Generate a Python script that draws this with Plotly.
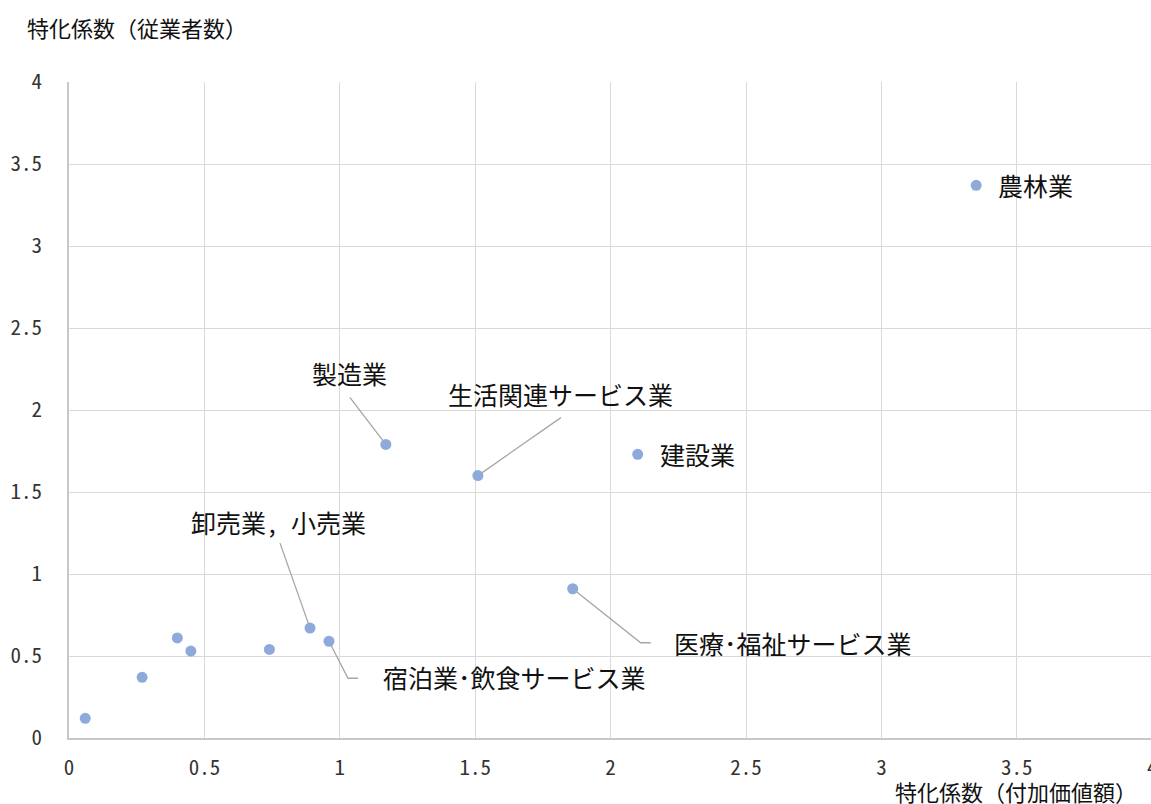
import plotly.graph_objects as go

# 産業別の特化係数（付加価値額 × 従業者数）
industry = ["農林業", "建設業", "製造業", "生活関連サービス業", "卸売業, 小売業",
            "宿泊業･飲食サービス業", "医療･福祉サービス業",
            "", "", "", "", ""]
coef_value_added = [3.35, 2.10, 1.17, 1.51, 0.89, 0.96, 1.86, 0.06, 0.27, 0.40, 0.45, 0.74]
coef_employees = [3.37, 1.73, 1.79, 1.60, 0.67, 0.59, 0.91, 0.12, 0.37, 0.61, 0.53, 0.54]

tick_vals = [0, 0.5, 1, 1.5, 2, 2.5, 3, 3.5, 4]
tick_text = ["0", "0.5", "1", "1.5", "2", "2.5", "3", "3.5", "4"]

x_title = "特化係数（付加価値額）"
y_title = "特化係数（従業者数）"

# ---- layout geometry ----
W, H = 1151, 804
M_L, M_R, M_T, M_B = 69, 0, 82, 66
plot_w = W - M_L - M_R
plot_h = H - M_T - M_B
PX_PER_X = 270.8
X_MAX = plot_w / PX_PER_X
Y_MAX = 4
PX_PER_Y = plot_h / Y_MAX

FONT = "Noto Sans Mono CJK JP, Noto Sans CJK JP, sans-serif"
GRID = "#d9d9d9"
MARK = "#8eaadb"
LEADER = "#a6a6a6"
TEXT = "#111111"
TICK = "#333333"

# label placement: (xanchor, xshift, yshift) in pixels; leader path in pixel offsets
label_pos = {
    "農林業": ("left", 20, 0, None),
    "建設業": ("left", 20, 0, None),
    "製造業": ("center", -36, 71, [(0, 0), (-36, 47)]),
    "生活関連サービス業": ("center", 83, 82, [(0, 0), (83, 58)]),
    "卸売業, 小売業": ("center", -32, 106, [(0, 0), (-30, 85)]),
    "宿泊業･飲食サービス業": ("left", 52, -36, [(0, 0), (19, -37), (29, -37)]),
    "医療･福祉サービス業": ("left", 99, -54, [(0, 0), (68, -54), (78, -54)]),
}

fig = go.Figure()

annotations = []
for name, xv, yv in zip(industry, coef_value_added, coef_employees):
    if not name:
        continue
    anchor, dx, dy, path = label_pos[name]
    if path:
        lx = [xv + px / PX_PER_X for px, _ in path]
        ly = [yv + py / PX_PER_Y for _, py in path]
        fig.add_trace(go.Scatter(x=lx, y=ly, mode="lines",
                                 line=dict(color=LEADER, width=1.3),
                                 hoverinfo="skip", showlegend=False))
    annotations.append(dict(x=xv, y=yv, xref="x", yref="y", text=name,
                            showarrow=False, xanchor=anchor, yanchor="middle",
                            xshift=dx, yshift=dy,
                            font=dict(family=FONT, size=25, color=TEXT)))

fig.add_trace(go.Scatter(
    x=coef_value_added, y=coef_employees, mode="markers",
    marker=dict(color=MARK, size=11, line=dict(width=0)),
    text=industry, showlegend=False,
    hovertemplate="%{text}<br>%{x}, %{y}<extra></extra>",
))

# axis titles (positions given in pixels, converted to paper fractions)
titles = [
    (y_title, 25, 27, "left"),
    (x_title, 1139, 791, "right"),
]
for text, px, py, anchor in titles:
    annotations.append(dict(x=(px - M_L) / plot_w, y=(H - py - M_B) / plot_h,
                            xref="paper", yref="paper", text=text,
                            showarrow=False, xanchor=anchor, yanchor="middle",
                            font=dict(family=FONT, size=22, color=TEXT)))

# last x tick sits at the window edge
annotations.append(dict(x=tick_vals[-1] / X_MAX, y=0, xref="paper", yref="paper",
                        text=tick_text[-1], showarrow=False, xanchor="center",
                        yanchor="top", yshift=-11,
                        font=dict(family=FONT, size=21, color=TICK)))

fig.update_layout(
    width=W, height=H,
    margin=dict(l=M_L, r=M_R, t=M_T, b=M_B),
    paper_bgcolor="white", plot_bgcolor="white",
    annotations=annotations,
    xaxis=dict(range=[0, X_MAX], tickvals=tick_vals[:-1], ticktext=tick_text[:-1],
               showgrid=True, gridcolor=GRID, gridwidth=1.3,
               zeroline=False, showline=True, linecolor="#c8c8c8", linewidth=1.5,
               ticks="outside", ticklen=10, tickcolor="rgba(0,0,0,0)",
               tickfont=dict(family=FONT, size=21, color=TICK)),
    yaxis=dict(range=[0, Y_MAX], tickvals=tick_vals, ticktext=tick_text,
               showgrid=True, gridcolor=GRID, gridwidth=1.3,
               zeroline=False, showline=True, linecolor="#c8c8c8", linewidth=1.5,
               ticks="outside", ticklen=21, tickcolor="rgba(0,0,0,0)",
               tickfont=dict(family=FONT, size=21, color=TICK)),
)

fig.write_html("out.html")
